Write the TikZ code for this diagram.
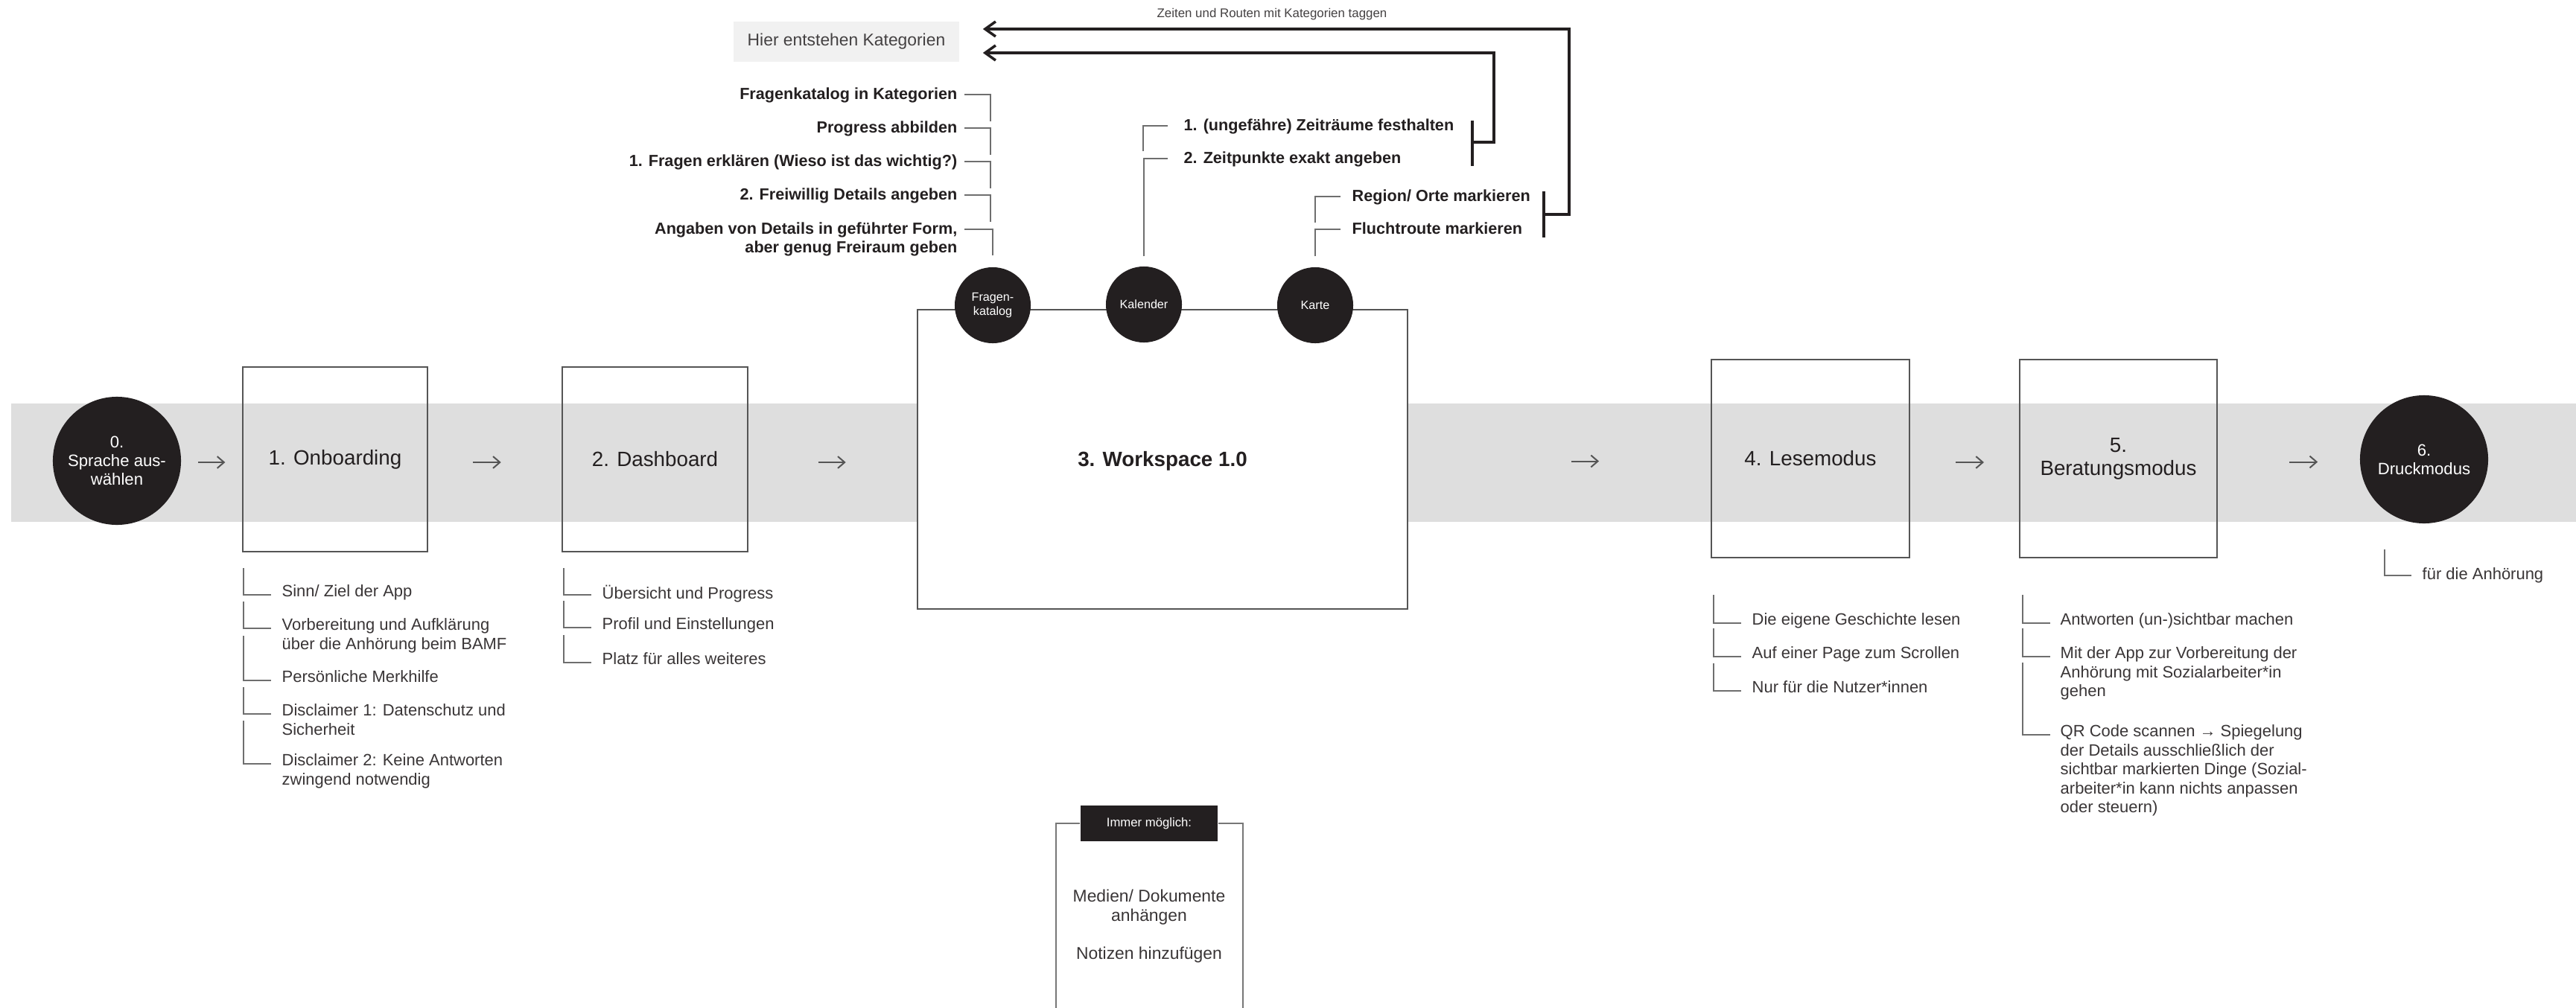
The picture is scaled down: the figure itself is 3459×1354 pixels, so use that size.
\documentclass[tikz,border=0pt]{standalone}
\usepackage{fontspec}
\setmainfont{Liberation Sans}
\usetikzlibrary{calc,arrows.meta}
\definecolor{ink}{RGB}{35,31,32}
\definecolor{bandgray}{RGB}{222,222,222}
\definecolor{hiergray}{RGB}{241,241,241}
\definecolor{boxgray}{RGB}{85,85,85}
\definecolor{tickgray}{RGB}{110,110,110}

\begin{document}
\begin{tikzpicture}[x=0.01cm,y=-0.01cm,
	screen/.style={draw=boxgray,line width=0.57pt,minimum width=2.48cm,minimum height=2.48cm,align=center,text=ink,font=\fontsize{7.9}{8.8}\selectfont},
	dot/.style={circle,fill=ink,text=white,minimum size=1.72cm,inner sep=0,align=center,font=\fontsize{6.3}{7.1}\selectfont},
	tab/.style={circle,fill=ink,text=white,minimum size=1.02cm,inner sep=0,align=center,font=\fontsize{4.6}{5.4}\selectfont},
	note/.style={anchor=north west,inner sep=0,align=left,text=ink!90,font=\fontsize{6.25}{7.25}\selectfont},
	catlabel/.style={anchor=north east,inner sep=0,align=right,text=ink,font=\bfseries\fontsize{6.15}{7.1}\selectfont},
	toollabel/.style={anchor=north west,inner sep=0,align=left,text=ink,font=\bfseries\fontsize{6.15}{7.1}\selectfont},
	tick/.style={draw=tickgray,line width=0.43pt},
	tag/.style={draw=ink,line width=1pt},
	tagarrow/.style={-{Straight Barb[length=4pt,width=5.7pt]}},
	flow/.style={draw=boxgray,line width=0.57pt,-{Straight Barb[length=2.6pt,width=4.5pt]}},
	frame/.style={draw=boxgray!80,line width=0.57pt}]
	\useasboundingbox (0,0) rectangle (3459,1354);
	\fill[bandgray] (15,542) rectangle (3459,701);
	\node[dot] (c0) at (157,619) {0.\\Sprache aus-\\wählen};
	\node[screen] (b1) at (450,617) {1. Onboarding};
	\node[screen] (b2) at (879.5,617) {2. Dashboard};
	\node[screen,fill=white,minimum width=6.58cm,minimum height=4.02cm] (ws) at (1561,617) {};
	\node[text=ink,font=\bfseries\fontsize{7.9}{9}\selectfont] (wstitle) at (1561,619) {3. Workspace 1.0};
	\node[screen,minimum width=2.66cm,minimum height=2.66cm] (b4) at (2431,616) {4. Lesemodus};
	\node[screen,minimum width=2.65cm,minimum height=2.66cm] (b5) at (2844.5,616) {5.\\Beratungsmodus};
	\node[dot] (c6) at (3255,617) {6.\\Druckmodus};
	\draw[flow] ($(c0.east)!.5!(b1.west)+(-18,3)$) -- ++(36,0);
	\draw[flow] ($(b1.east)!.5!(b2.west)+(-30,4)$) -- ++(38,0);
	\draw[flow] ($(b2.east)!.5!(ws.west)+(-19,4)$) -- ++(37,0);
	\draw[flow] ($(ws.east)!.5!(b4.west)+(16,3)$) -- ++(37,0);
	\draw[flow] ($(b4.east)!.5!(b5.west)+(-12,5)$) -- ++(38,0);
	\draw[flow] ($(b5.east)!.5!(c6.west)+(1,4)$) -- ++(38,0);
	\node[tab] (fk) at (1333,410) {Fragen-\\katalog};
	\node[tab] (cal) at (1536,409) {Kalender};
	\node[tab] (map) at (1766,410) {Karte};
	\node[fill=hiergray,minimum width=3.03cm,minimum height=0.54cm,text=ink!85,font=\fontsize{6.5}{7.5}\selectfont] (hier) at (1136.5,56) {Hier entstehen Kategorien};
	\node[text=ink!85,font=\fontsize{4.8}{5.6}\selectfont] (tagnote) at (1708,19) {Zeiten und Routen mit Kategorien taggen};
	\node[catlabel] (k1) at (1286,117) {Fragenkatalog in Kategorien};
	\node[catlabel] (k2) at (1286,162) {Progress abbilden};
	\node[catlabel] (k3) at (1286,207) {1. Fragen erklären (Wieso ist das wichtig?)};
	\node[catlabel] (k4) at (1286,252) {2. Freiwillig Details angeben};
	\node[catlabel] (k5) at (1286,298) {Angaben von Details in geführter Form,\\aber genug Freiraum geben};
	\draw[tick] (k1.north east) ++(9,10) -| ++(35,36);
	\draw[tick] (k2.north east) ++(9,10) -| ++(35,36);
	\draw[tick] (k3.north east) ++(9,10) -| ++(35,36);
	\draw[tick] (k4.north east) ++(9,10) -| ++(35,36);
	\draw[tick] (k5.north east) ++(9,10) -| ([yshift=0.15cm]fk.north);
	\node[toollabel] (z1) at (1589,159) {1. (ungefähre) Zeiträume festhalten};
	\node[toollabel] (z2) at (1589,203) {2. Zeitpunkte exakt angeben};
	\draw[tick] (z1.north west) ++(-54,44) |- ++(33,-34);
	\draw[tick] ([yshift=0.13cm]cal.north) |- ([xshift=-0.21cm,yshift=-0.1cm]z2.north west);
	\node[toollabel] (m1) at (1815,254) {Region/ Orte markieren};
	\node[toollabel] (m2) at (1815,298) {Fluchtroute markieren};
	\draw[tick] (m1.north west) ++(-49,45) |- ++(34,-35);
	\draw[tick] ([yshift=0.14cm]map.north) |- ([xshift=-0.15cm,yshift=-0.1cm]m2.north west);
	\coordinate (zbar) at (1977,191);
	\coordinate (mbar) at (2073,288);
	\draw[tag] ([yshift=0.29cm]zbar) -- ([yshift=-0.32cm]zbar);
	\draw[tag] ([yshift=0.31cm]mbar) -- ([yshift=-0.31cm]mbar);
	\draw[tag,tagarrow] (zbar) -- ++(29,0) |- ([xshift=0.31cm,yshift=-0.15cm]hier.east);
	\draw[tag,tagarrow] (mbar) -- ++(34,0) |- ([xshift=0.31cm,yshift=0.17cm]hier.east);
	\node[note] (o1) at (378,785) {Sinn/ Ziel der App};
	\node[note] (o2) at (378,830) {Vorbereitung und Aufklärung\\über die Anhörung beim BAMF};
	\node[note] (o3) at (378,900) {Persönliche Merkhilfe};
	\node[note] (o4) at (378,945) {Disclaimer 1: Datenschutz und\\Sicherheit};
	\node[note] (o5) at (378,1012) {Disclaimer 2: Keine Antworten\\zwingend notwendig};
	\draw[tick] (o1.north west) ++(-51,-22) |- ++(37,36);
	\draw[tick] (o2.north west) ++(-51,-22) |- ++(37,36);
	\draw[tick] (o3.north west) ++(-51,-46) |- ++(37,60);
	\draw[tick] (o4.north west) ++(-51,-22) |- ++(37,36);
	\draw[tick] (o5.north west) ++(-51,-44) |- ++(37,58);
	\node[note] (d1) at (808,785) {Übersicht und Progress};
	\node[note] (d2) at (808,829) {Profil und Einstellungen};
	\node[note] (d3) at (808,876) {Platz für alles weiteres};
	\draw[tick] (d1.north west) ++(-51,-22) |- ++(37,36);
	\draw[tick] (d2.north west) ++(-51,-22) |- ++(37,36);
	\draw[tick] (d3.north west) ++(-51,-23) |- ++(37,37);
	\node[note] (l1) at (2352,823) {Die eigene Geschichte lesen};
	\node[note] (l2) at (2352,868) {Auf einer Page zum Scrollen};
	\node[note] (l3) at (2352,914) {Nur für die Nutzer*innen};
	\draw[tick] (l1.north west) ++(-51,-24) |- ++(37,38);
	\draw[tick] (l2.north west) ++(-51,-24) |- ++(37,38);
	\draw[tick] (l3.north west) ++(-51,-23) |- ++(37,37);
	\node[note] (r1) at (2766,823) {Antworten (un-)sichtbar machen};
	\node[note] (r2) at (2766,868) {Mit der App zur Vorbereitung der\\Anhörung mit Sozialarbeiter*in\\gehen};
	\node[note] (r3) at (2766,973) {QR Code scannen → Spiegelung\\der Details ausschließlich der\\sichtbar markierten Dinge (Sozial-\\arbeiter*in kann nichts anpassen\\oder steuern)};
	\draw[tick] (r1.north west) ++(-50,-24) |- ++(37,38);
	\draw[tick] (r2.north west) ++(-50,-24) |- ++(37,38);
	\draw[tick] (r3.north west) ++(-50,-83) |- ++(37,97);
	\node[note] (p1) at (3252,762) {für die Anhörung};
	\draw[tick] (p1.north west) ++(-50,-24) |- ++(36,35);
	\node[fill=ink,text=white,minimum width=1.84cm,minimum height=0.48cm,font=\fontsize{4.75}{5.5}\selectfont] (imm) at (1543,1106) {Immer möglich:};
	\coordinate (frameleft) at (1418,1354);
	\coordinate (frameright) at (1669,1354);
	\draw[frame] (imm.west) -| (frameleft);
	\draw[frame] (imm.east) -| (frameright);
	\node[align=center,text=ink!90,font=\fontsize{6.5}{7.4}\selectfont] (media) at (1543,1219) {Medien/ Dokumente\\anhängen};
	\node[align=center,text=ink!90,font=\fontsize{6.5}{7.4}\selectfont] (notes) at (1543,1283) {Notizen hinzufügen};
\end{tikzpicture}
\end{document}
